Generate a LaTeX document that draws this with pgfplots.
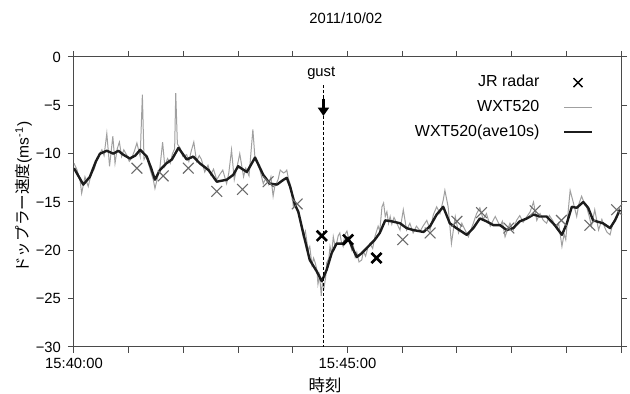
\documentclass[border=0pt]{standalone}
\usepackage{fontspec}
\setmainfont{Liberation Sans}
\newfontfamily\jp{Noto Sans CJK JP}
\usepackage{pgfplots}
\usepackage{pgfplotstable}
\pgfplotsset{compat=1.18}
\usetikzlibrary{arrows.meta}
\definecolor{axisgray}{HTML}{4A4A4A}
\definecolor{rawgray}{HTML}{A0A0A0}
\definecolor{xgray}{HTML}{6A6A6A}
\definecolor{avgblack}{HTML}{1C1C1C}

\pgfplotstableread{
t v
0.00 -11.0
0.05 -11.6
0.11 -12.7
0.14 -14.1
0.20 -12.4
0.26 -13.4
0.31 -12.2
0.37 -11.6
0.42 -10.6
0.51 -9.6
0.55 -10.2
0.60 -7.9
0.65 -11.3
0.71 -8.2
0.75 -11.0
0.79 -9.5
0.83 -8.8
0.87 -10.3
0.91 -9.6
0.97 -10.2
1.01 -10.8
1.05 -10.5
1.10 -9.8
1.15 -8.9
1.21 -10.3
1.25 -3.9
1.28 -10.6
1.32 -10.2
1.36 -11.0
1.41 -12.0
1.45 -12.7
1.48 -13.6
1.53 -12.4
1.57 -11.5
1.62 -8.8
1.66 -11.3
1.71 -10.5
1.76 -11.0
1.80 -10.0
1.84 -9.5
1.86 -3.75
1.89 -9.0
1.94 -9.4
1.99 -10.3
2.06 -10.1
2.10 -10.8
2.14 -9.8
2.19 -8.8
2.24 -10.8
2.29 -10.2
2.33 -10.6
2.39 -11.9
2.45 -11.2
2.50 -12.2
2.55 -11.6
2.61 -12.7
2.66 -12.2
2.72 -11.7
2.75 -12.3
2.79 -13.1
2.83 -12.0
2.88 -9.6
2.93 -12.7
2.98 -11.4
3.03 -10.0
3.10 -12.4
3.14 -11.5
3.20 -12.3
3.27 -7.5
3.31 -10.6
3.35 -11.0
3.40 -11.7
3.46 -13.1
3.51 -12.5
3.56 -13.2
3.60 -12.4
3.64 -14.4
3.67 -13.4
3.73 -12.7
3.77 -11.7
3.83 -12.0
3.86 -11.9
3.89 -11.7
3.92 -12.6
3.95 -13.1
3.98 -13.8
4.01 -15.5
4.05 -15.0
4.10 -16.2
4.14 -17.2
4.19 -18.6
4.23 -18.0
4.28 -20.0
4.31 -19.6
4.35 -21.5
4.38 -20.8
4.41 -21.3
4.44 -22.0
4.46 -23.5
4.49 -22.6
4.52 -24.7
4.54 -23.4
4.57 -23.9
4.60 -22.8
4.62 -21.3
4.66 -20.8
4.68 -19.6
4.71 -20.4
4.74 -18.6
4.77 -19.5
4.80 -19.3
4.83 -18.5
4.86 -18.2
4.89 -19.2
4.92 -19.6
4.95 -18.4
4.99 -18.0
5.03 -19.0
5.08 -20.0
5.11 -19.6
5.14 -20.7
5.17 -20.2
5.21 -21.2
5.26 -21.0
5.29 -20.1
5.33 -20.6
5.37 -19.8
5.41 -19.3
5.46 -19.8
5.50 -18.6
5.56 -17.5
5.59 -18.0
5.63 -15.5
5.66 -15.1
5.69 -16.5
5.72 -16.0
5.75 -17.2
5.78 -16.5
5.81 -17.3
5.85 -16.6
5.90 -17.2
5.96 -17.9
6.02 -15.8
6.08 -17.9
6.14 -17.2
6.20 -18.2
6.26 -17.5
6.33 -18.0
6.38 -17.5
6.45 -16.9
6.51 -17.9
6.57 -16.3
6.63 -15.5
6.69 -16.2
6.75 -14.8
6.78 -13.8
6.84 -15.5
6.90 -19.3
6.97 -16.5
7.03 -18.2
7.09 -17.2
7.15 -17.9
7.21 -18.6
7.26 -17.8
7.30 -17.2
7.36 -16.2
7.42 -15.6
7.48 -16.8
7.54 -16.2
7.61 -17.5
7.70 -16.5
7.79 -17.5
7.83 -17.0
7.88 -18.6
7.93 -17.8
7.97 -17.2
8.03 -17.9
8.09 -16.9
8.15 -16.4
8.21 -17.1
8.27 -16.6
8.34 -16.0
8.40 -15.0
8.46 -16.9
8.52 -16.2
8.58 -16.9
8.64 -17.2
8.69 -16.4
8.75 -16.9
8.82 -17.7
8.86 -17.2
8.92 -19.6
8.96 -18.3
8.99 -18.9
9.04 -15.6
9.07 -13.8
9.13 -15.1
9.19 -16.5
9.23 -15.2
9.28 -14.4
9.32 -15.0
9.37 -15.5
9.42 -16.5
9.46 -17.5
9.52 -15.8
9.59 -17.9
9.65 -16.8
9.70 -17.6
9.74 -18.1
9.80 -18.4
9.85 -17.2
9.92 -16.5
9.98 -15.6
}\rawdata

\pgfplotstableread{
t v
0.00 -11.5
0.08 -12.3
0.17 -13.2
0.29 -12.4
0.40 -10.8
0.475 -10.0
0.60 -9.7
0.72 -10.0
0.81 -9.7
0.90 -10.1
1.02 -10.5
1.12 -10.2
1.21 -9.6
1.33 -10.3
1.41 -11.5
1.48 -12.7
1.57 -11.7
1.69 -11.0
1.79 -10.6
1.91 -9.4
2.06 -10.6
2.18 -10.3
2.30 -11.0
2.46 -11.7
2.61 -12.9
2.79 -12.7
2.91 -12.2
3.00 -11.3
3.16 -11.9
3.31 -10.4
3.46 -12.2
3.58 -13.1
3.71 -13.2
3.83 -12.7
3.89 -12.5
3.95 -13.4
4.04 -15.3
4.10 -16.0
4.19 -18.2
4.31 -21.0
4.44 -22.2
4.53 -23.2
4.62 -22.0
4.71 -20.3
4.80 -19.3
4.92 -19.3
5.01 -18.7
5.11 -20.0
5.17 -20.7
5.26 -20.3
5.38 -19.6
5.50 -18.9
5.59 -18.2
5.69 -16.9
5.81 -17.0
5.96 -17.2
6.08 -17.7
6.20 -17.9
6.39 -18.1
6.51 -17.5
6.63 -16.3
6.75 -15.5
6.87 -17.2
6.99 -17.7
7.18 -18.4
7.30 -17.7
7.42 -16.7
7.54 -17.0
7.67 -17.4
7.79 -17.4
7.91 -17.9
8.03 -17.7
8.15 -17.0
8.28 -16.7
8.40 -16.3
8.52 -16.5
8.64 -16.5
8.79 -17.4
8.92 -18.4
9.01 -17.2
9.10 -15.5
9.19 -15.6
9.31 -15.0
9.40 -15.6
9.49 -16.9
9.67 -17.2
9.80 -17.7
9.89 -16.9
9.98 -15.8
}\avgdata

\pgfplotstableread{
t v
1.15 -11.5
1.63 -12.3
2.09 -11.5
2.61 -13.9
3.08 -13.7
3.55 -12.9
4.08 -15.2
6.01 -18.9
6.51 -18.2
7.00 -17.0
7.45 -16.1
7.95 -17.7
8.43 -15.9
8.91 -16.9
9.43 -17.4
9.92 -15.8
}\radarlight

\pgfplotstableread{
t v
4.53 -18.5
5.01 -18.9
5.53 -20.8
}\radarbold

\begin{document}
\begin{tikzpicture}
\begin{axis}[
  scale only axis, width=273.5pt, height=145pt,
  xmin=0, xmax=10, ymin=-30, ymax=0,
  xtick={0,...,10}, xticklabels={15:40:00,,,,,15:45:00,,,,,},
  ytick={-30,-25,...,0}, yticklabels={−30,−25,−20,−15,−10,−5,0},
  tick align=outside, major tick length=3pt,
  axis line style={draw=axisgray, line width=0.5pt},
  every tick/.style={draw=axisgray, line width=0.5pt},
  tick label style={font=\fontsize{7.4}{8}\selectfont, text=black},
  xticklabel style={yshift=1pt},
  title={2011/10/02},
  title style={font=\fontsize{7.4}{8}\selectfont, at={(axis description cs:0.497,1.093)}, anchor=center},
  xlabel={\jp 時刻},
  xlabel style={font=\fontsize{8.2}{9}\selectfont, at={(axis description cs:0.459,-0.131)}, anchor=center},
  ylabel={{\jp ドップラー速度}(ms\textsuperscript{-1})},
  ylabel style={font=\fontsize{7.8}{9}\selectfont, at={(axis description cs:-0.092,0.517)}, anchor=center},
  legend style={at={(axis description cs:0.949,0.952)}, anchor=north east, draw=none, fill=none,
    font=\fontsize{8}{9}\selectfont, row sep=1.1pt, inner sep=0pt},
  legend plot pos=right, legend cell align=right,
  legend image code/.code={\draw[mark repeat=2,mark phase=2,#1] plot coordinates {(0cm,0cm) (0.24cm,0cm) (0.48cm,0cm)};},
]
\addlegendimage{black, only marks, mark=x, mark size=3.2pt, line width=0.7pt}
\addlegendentry{JR radar\hspace*{10pt}}
\addlegendimage{rawgray, line width=0.5pt}
\addlegendentry{WXT520\hspace*{10pt}}
\addlegendimage{avgblack, line width=1pt}
\addlegendentry{WXT520(ave10s)\hspace*{10pt}}

\addplot[rawgray, line width=0.5pt, forget plot] table[x=t,y=v] {\rawdata};
\addplot[avgblack, line width=1.2pt, line join=round, forget plot] table[x=t,y=v] {\avgdata};
\addplot[xgray, only marks, mark=x, mark size=3.8pt, line width=0.55pt, forget plot] table[x=t,y=v] {\radarlight};
\addplot[black, only marks, mark=x, mark size=3.6pt, line width=1.3pt, forget plot] table[x=t,y=v] {\radarbold};

\addplot[black, dash pattern=on 1.6pt off 1pt, line width=0.45pt, forget plot] coordinates {(4.56,-2.9) (4.56,-30)};
\addplot[black, line width=1.1pt, -{Triangle[width=5.5pt,length=4.2pt]}, forget plot] coordinates {(4.56,-4.3) (4.56,-6.1)};
\node[font=\fontsize{7.4}{8}\selectfont] at (axis cs:4.52,-1.65) {gust};

\coordinate (bbSW) at (rel axis cs:0,0);
\coordinate (bbNE) at (rel axis cs:1,1);
\end{axis}
\pgfresetboundingbox
\path[use as bounding box] ([shift={(-37pt,-23.5pt)}]bbSW) rectangle ([shift={(4.5pt,28.5pt)}]bbNE);
\end{tikzpicture}
\end{document}
